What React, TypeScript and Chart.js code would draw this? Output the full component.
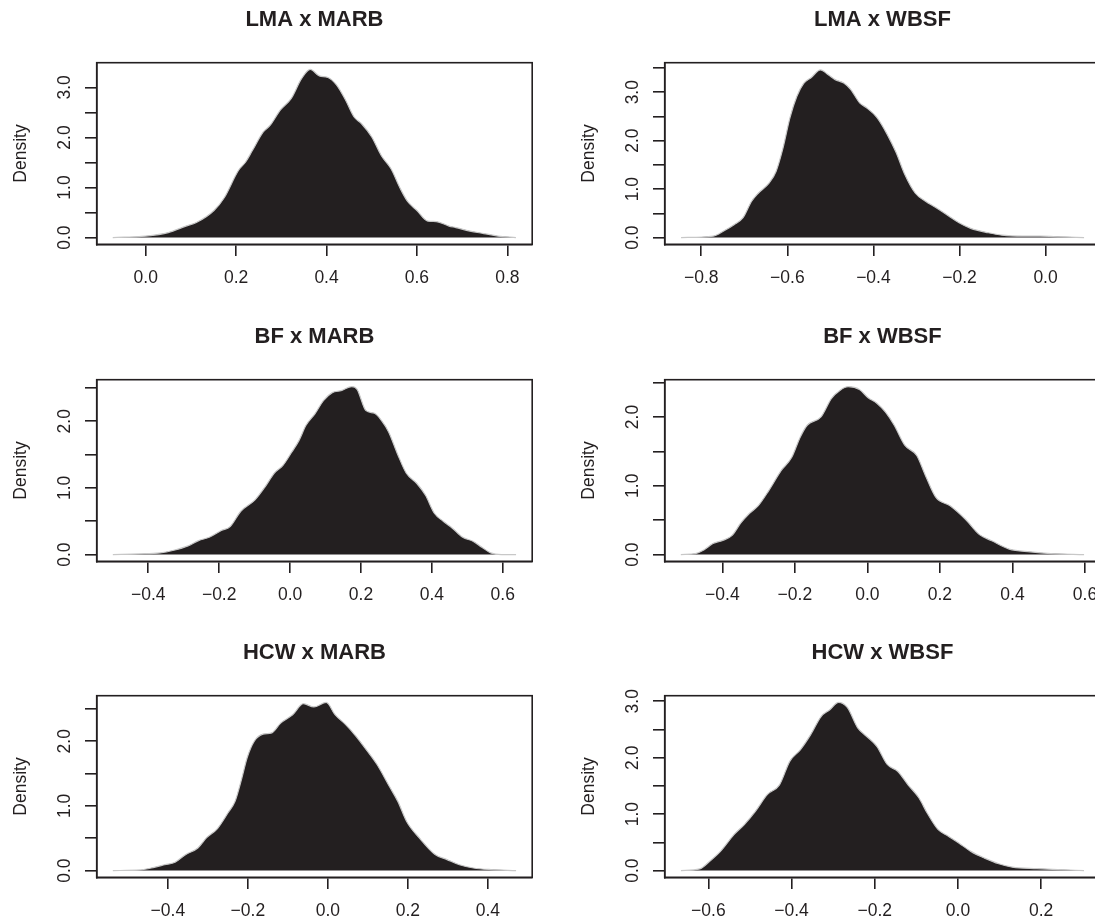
import React, { useEffect, useRef } from "react";
import { Chart, registerables } from "chart.js";

Chart.register(...registerables);

const FONT = "'Liberation Sans', Arial, Helvetica, sans-serif";
const INK = "#231f20";
const CURVE_EDGE = "#c8c8c8";

// ---------- Data: density curves ----------
const LMA_MARB_X = [-0.073, 0.0, 0.05, 0.089, 0.112, 0.151, 0.174, 0.205, 0.221, 0.236, 0.26, 0.275, 0.298, 0.322, 0.345, 0.364, 0.384, 0.403, 0.422, 0.442, 0.461, 0.477, 0.5, 0.521, 0.543, 0.562, 0.578, 0.6, 0.624, 0.643, 0.671, 0.686, 0.717, 0.748, 0.779, 0.819];
const LMA_MARB_Y = [0.0, 0.03, 0.1, 0.23, 0.3, 0.54, 0.8, 1.34, 1.51, 1.74, 2.11, 2.24, 2.55, 2.78, 3.18, 3.36, 3.23, 3.2, 3.05, 2.75, 2.41, 2.28, 2.01, 1.64, 1.37, 1.0, 0.74, 0.54, 0.33, 0.32, 0.23, 0.2, 0.13, 0.08, 0.03, 0.0];

const LMA_WBSF_X = [-0.847, -0.772, -0.747, -0.723, -0.703, -0.683, -0.667, -0.642, -0.626, -0.61, -0.594, -0.578, -0.562, -0.545, -0.523, -0.505, -0.489, -0.469, -0.453, -0.432, -0.416, -0.392, -0.368, -0.347, -0.327, -0.303, -0.279, -0.255, -0.226, -0.202, -0.174, -0.133, -0.101, -0.053, -0.012, 0.036, 0.0895];
const LMA_WBSF_Y = [0.0, 0.03, 0.14, 0.27, 0.41, 0.75, 0.92, 1.13, 1.37, 1.85, 2.47, 2.91, 3.18, 3.3, 3.46, 3.36, 3.26, 3.19, 3.06, 2.78, 2.68, 2.48, 2.13, 1.75, 1.3, 0.92, 0.75, 0.62, 0.45, 0.31, 0.19, 0.1, 0.05, 0.03, 0.03, 0.015, 0.0];

const BF_MARB_X = [-0.5, -0.427, -0.367, -0.328, -0.288, -0.258, -0.228, -0.194, -0.169, -0.139, -0.099, -0.07, -0.045, -0.02, 0.005, 0.025, 0.045, 0.07, 0.094, 0.119, 0.144, 0.174, 0.189, 0.214, 0.238, 0.258, 0.278, 0.303, 0.328, 0.357, 0.382, 0.407, 0.432, 0.457, 0.487, 0.516, 0.541, 0.566, 0.596, 0.6375];
const BF_MARB_Y = [0.0, 0.01, 0.025, 0.065, 0.13, 0.21, 0.26, 0.36, 0.42, 0.65, 0.82, 1.02, 1.22, 1.34, 1.54, 1.71, 1.94, 2.11, 2.31, 2.43, 2.46, 2.52, 2.48, 2.16, 2.12, 2.01, 1.84, 1.51, 1.22, 1.07, 0.89, 0.62, 0.5, 0.4, 0.26, 0.2, 0.11, 0.025, 0.0, 0.0];

const BF_WBSF_X = [-0.5145, -0.474, -0.45, -0.426, -0.397, -0.373, -0.349, -0.325, -0.301, -0.272, -0.238, -0.209, -0.185, -0.166, -0.128, -0.099, -0.075, -0.053, -0.022, 0.002, 0.026, 0.05, 0.074, 0.103, 0.136, 0.16, 0.189, 0.228, 0.271, 0.309, 0.343, 0.391, 0.449, 0.506, 0.5975];
const BF_WBSF_Y = [0.0, 0.015, 0.07, 0.16, 0.21, 0.28, 0.46, 0.6, 0.71, 0.93, 1.22, 1.41, 1.71, 1.88, 2.0, 2.27, 2.39, 2.44, 2.4, 2.28, 2.2, 2.07, 1.88, 1.59, 1.44, 1.15, 0.83, 0.71, 0.51, 0.29, 0.2, 0.08, 0.04, 0.015, 0.0];

const HCW_MARB_X = [-0.5377, -0.469, -0.434, -0.408, -0.382, -0.355, -0.325, -0.303, -0.276, -0.25, -0.232, -0.215, -0.202, -0.184, -0.162, -0.14, -0.118, -0.088, -0.061, -0.035, -0.004, 0.018, 0.044, 0.07, 0.096, 0.123, 0.154, 0.175, 0.197, 0.228, 0.268, 0.298, 0.329, 0.364, 0.408, 0.4707];
const HCW_MARB_Y = [0.0, 0.01, 0.05, 0.09, 0.13, 0.25, 0.35, 0.51, 0.65, 0.89, 1.07, 1.43, 1.74, 2.0, 2.11, 2.13, 2.28, 2.41, 2.58, 2.53, 2.6, 2.41, 2.26, 2.08, 1.87, 1.64, 1.3, 1.07, 0.76, 0.51, 0.25, 0.17, 0.09, 0.04, 0.015, 0.0];

const HCW_WBSF_X = [-0.666, -0.621, -0.596, -0.571, -0.538, -0.513, -0.487, -0.458, -0.429, -0.404, -0.379, -0.354, -0.329, -0.308, -0.287, -0.266, -0.241, -0.22, -0.195, -0.17, -0.145, -0.12, -0.094, -0.074, -0.048, -0.023, 0.002, 0.031, 0.064, 0.098, 0.131, 0.19, 0.24, 0.303];
const HCW_WBSF_Y = [0.0, 0.03, 0.17, 0.34, 0.64, 0.82, 1.05, 1.35, 1.52, 1.94, 2.14, 2.41, 2.73, 2.85, 2.98, 2.89, 2.53, 2.38, 2.2, 1.88, 1.76, 1.52, 1.29, 1.02, 0.73, 0.61, 0.49, 0.34, 0.22, 0.12, 0.06, 0.035, 0.018, 0.0];

// ---------- Titles ----------
const TITLES = ["LMA x MARB", "LMA x WBSF", "BF x MARB", "BF x WBSF", "HCW x MARB", "HCW x WBSF"];
const Y_TITLE = "Density";

// ---------- Axis ranges and ticks ----------
const X_RANGES: [number, number][] = [
  [-0.1085, 0.855],
  [-0.885, 0.127],
  [-0.5455, 0.683],
  [-0.559, 0.642],
  [-0.578, 0.511],
  [-0.705, 0.342],
];
const Y_RANGES: [number, number][] = [
  [-0.1344, 3.4944],
  [-0.1388, 3.6088],
  [-0.1009, 2.624],
  [-0.0978, 2.542],
  [-0.104, 2.704],
  [-0.1192, 3.099],
];
const X_TICKS: number[][] = [
  [0.0, 0.2, 0.4, 0.6, 0.8],
  [-0.8, -0.6, -0.4, -0.2, 0.0],
  [-0.4, -0.2, 0.0, 0.2, 0.4, 0.6],
  [-0.4, -0.2, 0.0, 0.2, 0.4, 0.6],
  [-0.4, -0.2, 0.0, 0.2, 0.4],
  [-0.6, -0.4, -0.2, 0.0, 0.2],
];
const Y_TICKS: number[][] = [
  [0, 0.5, 1, 1.5, 2, 2.5, 3],
  [0, 0.5, 1, 1.5, 2, 2.5, 3, 3.5],
  [0, 0.5, 1, 1.5, 2, 2.5],
  [0, 0.5, 1, 1.5, 2, 2.5],
  [0, 0.5, 1, 1.5, 2, 2.5],
  [0, 0.5, 1, 1.5, 2, 2.5, 3],
];
const Y_LABELS: number[][] = [
  [0, 1, 2, 3],
  [0, 1, 2, 3],
  [0, 1, 2],
  [0, 1, 2],
  [0, 1, 2],
  [0, 1, 2, 3],
];

const SERIES_X = [LMA_MARB_X, LMA_WBSF_X, BF_MARB_X, BF_WBSF_X, HCW_MARB_X, HCW_WBSF_X];
const SERIES_Y = [LMA_MARB_Y, LMA_WBSF_Y, BF_MARB_Y, BF_WBSF_Y, HCW_MARB_Y, HCW_WBSF_Y];

// ---------- Layout ----------
const CANVAS_W = 548;
const CANVAS_H = 316;
const BOX_LEFT = 96.7;
const BOX_RIGHT = 532.2;
const BOX_TOP = 62.7;
const BOX_BOTTOM = 244.3;
const COL_LEFT = [0, 568];
const ROW_TOP = [0, 316.5, 632.5];
const TICK_LEN = 11.7;
const LINE_W = 1.6;
const AXIS_FONT = 17.5;
const TITLE_FONT = 22;

const fmt = (v: number) => {
  const s = Math.abs(v) < 1e-9 ? "0.0" : v.toFixed(1);
  return s.replace("-", "\u2212");
};

function Panel({ idx }: { idx: number }) {
  const ref = useRef<HTMLCanvasElement | null>(null);

  useEffect(() => {
    const canvas = ref.current;
    if (!canvas) return;
    const xs = SERIES_X[idx];
    const ys = SERIES_Y[idx];
    const xTicks = X_TICKS[idx];
    const yTicks = Y_TICKS[idx];
    const yLabels = Y_LABELS[idx];

    const boxPlugin = {
      id: "rbox",
      afterDatasetsDraw(chart: any) {
        const { ctx, chartArea } = chart;
        ctx.save();
        ctx.strokeStyle = INK;
        ctx.lineWidth = LINE_W;
        ctx.strokeRect(chartArea.left, chartArea.top, chartArea.right - chartArea.left, chartArea.bottom - chartArea.top);
        ctx.restore();
      },
    };

    const yLabelPlugin = {
      id: "ryLabels",
      afterDraw(chart: any) {
        const { ctx, chartArea } = chart;
        const ys = chart.scales.y;
        ctx.save();
        ctx.fillStyle = INK;
        ctx.font = `${AXIS_FONT}px ${FONT}`;
        ctx.textAlign = "center";
        ctx.textBaseline = "middle";
        for (const v of yLabels) {
          const py = ys.getPixelForValue(v);
          ctx.save();
          ctx.translate(chartArea.left - 31.7, py);
          ctx.rotate(-Math.PI / 2);
          ctx.fillText(fmt(v), 0, 0);
          ctx.restore();
        }
        ctx.restore();
      },
    };

    const chart = new Chart(canvas, {
      type: "line",
      data: {
        datasets: [
          {
            data: xs.map((x, i) => ({ x, y: ys[i] })),
            fill: "origin",
            backgroundColor: INK,
            borderColor: CURVE_EDGE,
            borderWidth: 1.2,
            pointRadius: 0,
            cubicInterpolationMode: "monotone",
          } as any,
        ],
      },
      options: {
        responsive: false,
        animation: false,
        devicePixelRatio: 1,
        layout: { padding: { left: 0, right: CANVAS_W - BOX_RIGHT, top: 0, bottom: 0 } },
        plugins: {
          legend: { display: false },
          tooltip: { enabled: false },
          title: {
            display: true,
            text: TITLES[idx],
            fullSize: false,
            color: INK,
            font: { family: FONT, size: TITLE_FONT, weight: "bold" },
            padding: { top: 6.8, bottom: BOX_TOP - 6.8 - TITLE_FONT * 1.2 },
          },
        },
        scales: {
          x: {
            type: "linear",
            position: "bottom",
            min: X_RANGES[idx][0],
            max: X_RANGES[idx][1],
            afterBuildTicks: (s: any) => {
              s.ticks = xTicks.map((v) => ({ value: v }));
            },
            afterFit: (s: any) => {
              s.height = CANVAS_H - BOX_BOTTOM;
            },
            grid: { drawOnChartArea: false, drawTicks: true, tickLength: TICK_LEN, color: INK, lineWidth: LINE_W },
            border: { display: true, color: INK, width: LINE_W },
            ticks: {
              color: INK,
              font: { family: FONT, size: AXIS_FONT },
              padding: 12,
              maxRotation: 0,
              minRotation: 0,
              autoSkip: false,
              callback: (v: any) => fmt(Number(v)),
            },
          },
          y: {
            type: "linear",
            position: "left",
            min: Y_RANGES[idx][0],
            max: Y_RANGES[idx][1],
            afterBuildTicks: (s: any) => {
              s.ticks = yTicks.map((v) => ({ value: v }));
            },
            afterFit: (s: any) => {
              s.width = BOX_LEFT;
            },
            grid: { drawOnChartArea: false, drawTicks: true, tickLength: TICK_LEN, color: INK, lineWidth: LINE_W },
            border: { display: true, color: INK, width: LINE_W },
            ticks: { autoSkip: false, font: { family: FONT, size: 10 }, callback: () => "" },
            title: {
              display: true,
              text: Y_TITLE,
              color: INK,
              font: { family: FONT, size: AXIS_FONT },
              padding: { top: 10.5, bottom: 0 },
            },
          },
        },
      } as any,
      plugins: [boxPlugin, yLabelPlugin],
    });
    return () => chart.destroy();
  }, [idx]);

  const col = idx % 2;
  const row = Math.floor(idx / 2);
  return (
    <canvas
      ref={ref}
      width={CANVAS_W}
      height={CANVAS_H}
      style={{ position: "absolute", left: COL_LEFT[col], top: ROW_TOP[row], width: CANVAS_W, height: CANVAS_H }}
    />
  );
}

export default function App() {
  return (
    <div
      style={{
        position: "absolute",
        left: 0,
        top: 0,
        width: 1095,
        height: 919,
        overflow: "hidden",
        background: "#ffffff",
      }}
    >
      {TITLES.map((_, i) => (
        <Panel key={i} idx={i} />
      ))}
    </div>
  );
}
